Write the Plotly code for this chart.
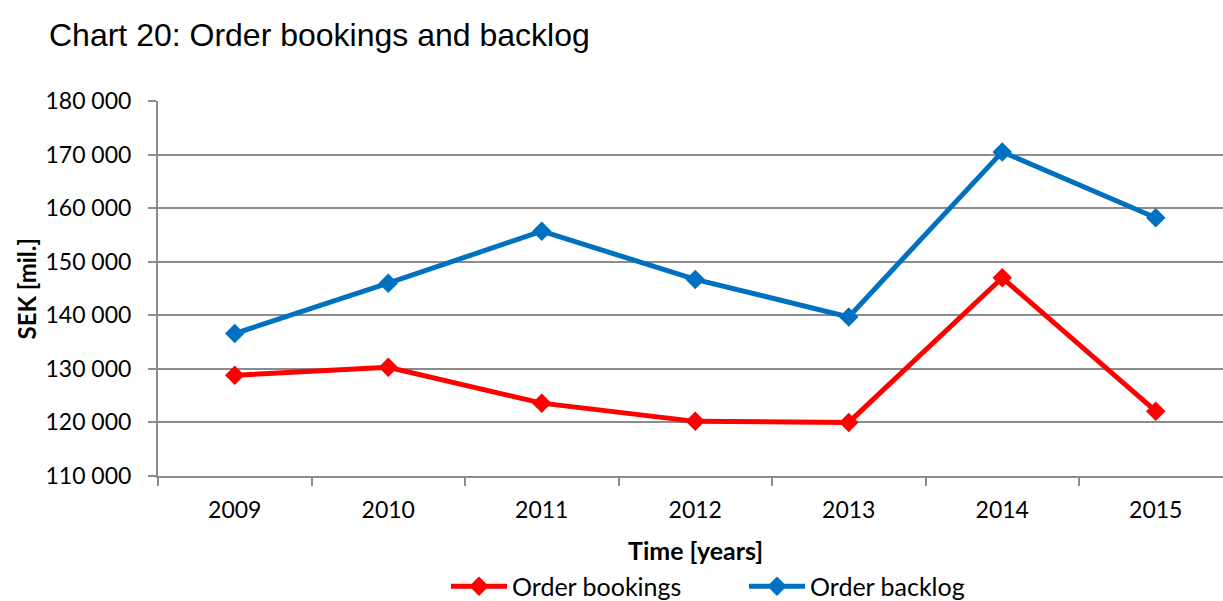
import plotly.graph_objects as go

# Order statistics, SEK millions
years = ["2009", "2010", "2011", "2012", "2013", "2014", "2015"]
order_bookings = [128800, 130300, 123600, 120200, 120000, 147000, 122100]
order_backlog = [136600, 146000, 155700, 146700, 139700, 170500, 158200]

y_ticks = [110000, 120000, 130000, 140000, 150000, 160000, 170000, 180000]

RED = "#FF0000"
BLUE = "#0070C0"
GRID = "#8C8C8C"
BODY_FONT = "Lato"

fig = go.Figure()
fig.add_trace(go.Scatter(
    x=years, y=order_bookings, name="Order bookings", mode="lines+markers",
    line=dict(color=RED, width=5),
    marker=dict(symbol="diamond", size=15, color=RED),
))
fig.add_trace(go.Scatter(
    x=years, y=order_backlog, name="Order backlog", mode="lines+markers",
    line=dict(color=BLUE, width=5),
    marker=dict(symbol="diamond", size=15, color=BLUE),
))

fig.update_layout(
    width=1223, height=601,
    margin=dict(l=158, r=0, t=101, b=125),
    paper_bgcolor="white", plot_bgcolor="white",
    separators=". ",
    font=dict(family=BODY_FONT, size=23, color="#000000"),
    showlegend=True,
    legend=dict(
        orientation="h", x=(446 - 158) / 1065, xanchor="left",
        yref="container", y=0.024, yanchor="middle",
        font=dict(family=BODY_FONT, size=25, color="#000000"),
        itemwidth=56, entrywidth=227, traceorder="normal",
        bgcolor="rgba(0,0,0,0)",
    ),
    annotations=[
        dict(text="Chart 20: Order bookings and backlog", xref="paper", yref="paper",
             x=(47 - 158) / 1065, y=1 + (101 - 35) / 375.7, xanchor="left", yanchor="middle",
             showarrow=False, font=dict(family="Liberation Sans", size=32, color="#000000")),
        dict(text="<b>Time [years]</b>", xref="paper", yref="paper",
             x=(695 - 158) / 1065, y=-(550 - 475.7) / 375.7, xanchor="center", yanchor="middle",
             showarrow=False, font=dict(family=BODY_FONT, size=25, color="#000000")),
        dict(text="<b>SEK [mil.]</b>", xref="paper", yref="paper", textangle=-90,
             x=-(158 - 26) / 1065, y=0.5, xanchor="center", yanchor="middle",
             showarrow=False, font=dict(family=BODY_FONT, size=24, color="#000000")),
    ],
)

fig.update_xaxes(
    type="category", range=[-0.5, 6.438],
    showgrid=False, showline=True, linecolor=GRID, linewidth=2,
    ticks="outside", tickson="boundaries", ticklen=8, tickcolor=GRID, tickwidth=1.5,
    tickfont=dict(family=BODY_FONT, size=23, color="#000000"),
    ticklabelstandoff=12,
)
fig.update_yaxes(
    range=[110000, 180000], tickvals=y_ticks, tickformat=",d",
    showgrid=True, gridcolor=GRID, gridwidth=1.5,
    showline=True, linecolor=GRID, linewidth=2,
    ticks="outside", ticklen=8, tickcolor=GRID, tickwidth=1.5,
    tickfont=dict(family=BODY_FONT, size=23, color="#000000"),
    ticklabelstandoff=12, zeroline=False,
)

fig.write_html("out.html")
